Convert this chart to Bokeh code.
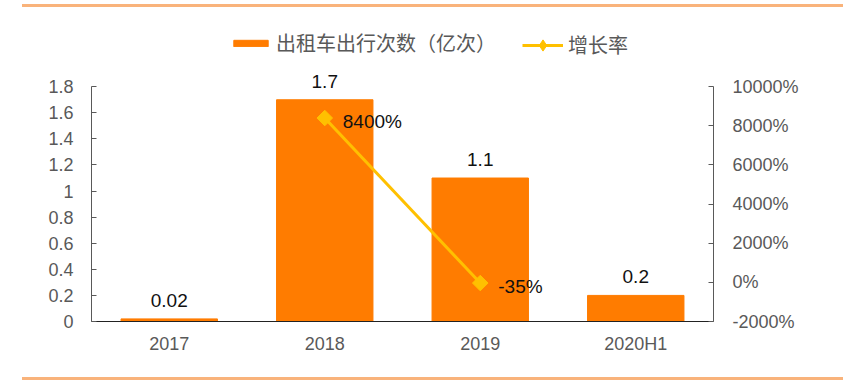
import math
from bokeh.plotting import figure
from bokeh.models import (ColumnDataSource, Range1d, LinearAxis, FixedTicker,
                          CustomJSTickFormatter, Legend, LegendItem, LabelSet)
from bokeh.embed import file_html
from bokeh.resources import INLINE
from bokeh.core.properties import value

# ---- data ----
categories = ["2017", "2018", "2019", "2020H1"]
trips = [0.02, 1.7, 1.1, 0.2]            # 出租车出行次数（亿次）
growth_cats = ["2018", "2019"]
growth = [8400, -35]                     # 增长率 (%)
left_ticks = [0, 0.2, 0.4, 0.6, 0.8, 1.0, 1.2, 1.4, 1.6, 1.8]
right_ticks = [-2000, 0, 2000, 4000, 6000, 8000, 10000]
left_axis_bounds = (0, 1.8)
right_axis_bounds = (-2000, 10000)

BAR = "#FF7C00"
LINE = "#FFC000"
GREY = "#595959"
RULE = "#F9B37B"
NUMFONT = "Liberation Sans"
CJK = "Noto Sans CJK SC"

# frame extends above the axes so that legend and labels are not clipped
HEAD = 2.3 / 1.8
p = figure(x_range=categories, y_range=Range1d(0, left_axis_bounds[1] * HEAD),
           width=846, height=385, output_backend="svg", toolbar_location=None,
           min_border_left=91, min_border_right=133, min_border_top=21, min_border_bottom=64)
p.outline_line_color = None
p.grid.grid_line_color = None
p.background_fill_color = "white"
p.x_range.range_padding = 0

rlo, rhi = right_axis_bounds
p.extra_y_ranges = {"g": Range1d(rlo, rlo + (rhi - rlo) * HEAD)}

bar_src = ColumnDataSource(dict(x=categories, y=trips, label=[str(v) for v in trips]))
bars = p.vbar(x="x", top="y", width=0.62, source=bar_src, color=BAR)

line_src = ColumnDataSource(dict(x=growth_cats, y=growth, label=[f"{v}%" for v in growth]))
ln = p.line(x="x", y="y", source=line_src, y_range_name="g", color=LINE, line_width=3)
mk = p.scatter(x="x", y="y", source=line_src, y_range_name="g", marker="square",
               angle=math.pi / 4, size=11, color=LINE)
# legend-only diamond: one point placed far outside the visible range
leg_mk = p.scatter(x=growth_cats[:1], y=[-1e7], y_range_name="g", marker="diamond", color=LINE)

p.add_layout(LabelSet(x="x", y="y", text="label", source=bar_src, y_offset=12,
                      text_align="center", text_baseline="bottom",
                      text_font=value(NUMFONT), text_font_size="19px", text_color="#111111"))
p.add_layout(LabelSet(x="x", y="y", text="label", source=line_src, y_range_name="g",
                      x_offset=18, y_offset=-3, text_align="left", text_baseline="middle",
                      text_font=value(NUMFONT), text_font_size="19px", text_color="#111111"))

# axes
xa = p.xaxis[0]
xa.axis_line_color = "#222222"
xa.major_tick_line_color = None
xa.minor_tick_line_color = None
xa.major_label_text_font = NUMFONT
xa.major_label_text_font_size = "18px"
xa.major_label_text_color = GREY
xa.major_label_standoff = 6

ya = p.yaxis[0]
ya.ticker = FixedTicker(ticks=left_ticks)
ya.bounds = left_axis_bounds
ya.formatter = CustomJSTickFormatter(code="return Number(tick.toFixed(1)).toString();")
ya.axis_line_color = GREY
ya.major_tick_line_color = GREY
ya.major_tick_in = 5
ya.major_tick_out = 0
ya.minor_tick_line_color = None
ya.major_label_text_font = NUMFONT
ya.major_label_text_font_size = "18px"
ya.major_label_text_color = GREY
ya.major_label_standoff = 18

ra = LinearAxis(y_range_name="g", ticker=FixedTicker(ticks=right_ticks),
                bounds=right_axis_bounds,
                formatter=CustomJSTickFormatter(code="return tick + '%';"))
ra.axis_line_color = GREY
ra.major_tick_line_color = GREY
ra.major_tick_in = 5
ra.major_tick_out = 0
ra.minor_tick_line_color = None
ra.major_label_text_font = NUMFONT
ra.major_label_text_font_size = "18px"
ra.major_label_text_color = GREY
ra.major_label_standoff = 19
p.add_layout(ra, "right")

common = dict(orientation="horizontal", label_text_font=CJK, label_text_font_size="20px",
              label_text_color=GREY, border_line_color=None, background_fill_alpha=0,
              padding=0, margin=0)
leg_a = Legend(items=[LegendItem(label="出租车出行次数（亿次）", renderers=[bars])],
               location=(138, 264), glyph_width=43, glyph_height=8, label_standoff=4, **common)
leg_b = Legend(items=[LegendItem(label="增长率", renderers=[ln, leg_mk])],
               location=(431, 262), glyph_width=41, glyph_height=28, label_standoff=5, **common)
p.add_layout(leg_a, "center")
p.add_layout(leg_b, "center")

html = file_html(p, INLINE)
rules = (f'<div style="position:absolute;left:22px;top:4px;width:821px;height:3px;background:{RULE}"></div>'
         f'<div style="position:absolute;left:22px;top:377px;width:821px;height:3px;background:{RULE}"></div>')
html = html.replace("</body>", rules + "</body>")
open("out.html", "w").write(html)
